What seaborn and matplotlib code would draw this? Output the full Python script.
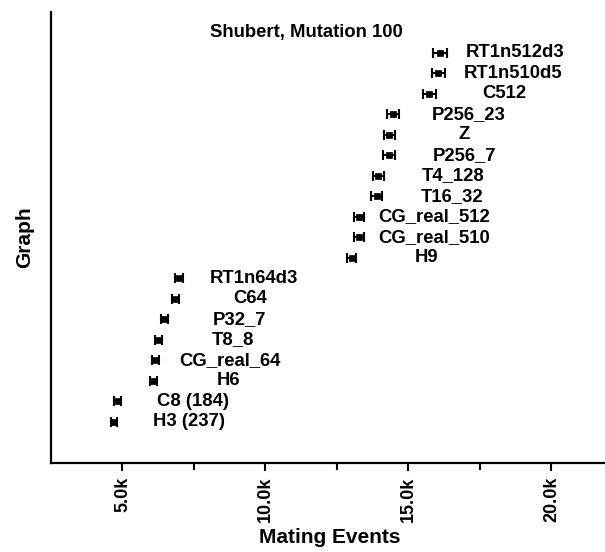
import matplotlib
matplotlib.use("Agg")
import matplotlib.pyplot as plt
import seaborn as sns
import pandas as pd
from matplotlib.ticker import FixedLocator, FuncFormatter

# Data (bottom to top)
graphs = ["H3 (237)", "C8 (184)", "H6", "CG_real_64", "T8_8", "P32_7", "C64",
          "RT1n64d3", "H9", "CG_real_510", "CG_real_512", "T16_32", "T4_128",
          "P256_7", "Z", "P256_23", "C512", "RT1n510d5", "RT1n512d3"]
events = [4700, 4830, 6080, 6140, 6250, 6460, 6850,
          6970, 13010, 13280, 13280, 13890, 13940,
          14320, 14330, 14470, 15730, 16040, 16100]
errors = [110, 110, 120, 120, 120, 120, 130,
          130, 170, 180, 180, 190, 190,
          200, 200, 210, 220, 220, 230]
title_text = "Shubert, Mutation 100"
major_ticks = [5000, 10000, 15000, 20000]
minor_ticks = [7500, 12500, 17500]

df = pd.DataFrame({"graph": graphs, "events": events, "err": errors})
df["pos"] = range(len(df))

sns.set_theme(style="white")
plt.rcParams["font.family"] = ["Liberation Sans", "DejaVu Sans"]
plt.rcParams["font.weight"] = "bold"
for k in ["text.color", "axes.labelcolor", "xtick.color", "ytick.color", "axes.edgecolor"]:
    plt.rcParams[k] = "black"

fig = plt.figure(figsize=(6.05, 5.52), dpi=100)
ax = fig.add_axes([51 / 605, 89.3 / 552, 557.7 / 605, 450.7 / 552])

ax.errorbar(df["events"], df["pos"], xerr=df["err"], fmt="none",
            ecolor="black", elinewidth=1.5, capsize=3.4, capthick=1.5, zorder=2)
sns.scatterplot(data=df, x="events", y="pos", marker="s", s=15, color="black",
                edgecolor="black", linewidth=0.5, ax=ax, zorder=3, legend=False)

for _, r in df.iterrows():
    ax.annotate(r["graph"], xy=(r["events"], r["pos"]), xytext=(75, 0),
                textcoords="offset pixels", ha="center", va="center",
                fontsize=13.3, fontweight="bold", color="black")

ax.text(0.458, len(df), title_text, transform=ax.get_yaxis_transform(),
        ha="center", va="center", fontsize=13.3, fontweight="bold", color="black")

ax.set_xlim(2500, 22000)
ax.set_ylim(-2, 20)
ax.set_yticks([])
ax.xaxis.set_major_locator(FixedLocator(major_ticks))
ax.xaxis.set_minor_locator(FixedLocator(minor_ticks))
ax.xaxis.set_major_formatter(FuncFormatter(lambda v, p: f"{v/1000:.1f}k"))
ax.tick_params(axis="x", which="major", bottom=True, length=6, width=1.5,
               direction="out", labelsize=13, labelrotation=90, pad=4,
               color="black", labelcolor="black")
ax.tick_params(axis="x", which="minor", bottom=True, length=5, width=1.5,
               direction="out", color="black")
for lab in ax.get_xticklabels():
    lab.set_fontweight("bold")

ax.set_xlabel("Mating Events", fontsize=15, fontweight="bold", labelpad=4, color="black")
ax.set_ylabel("Graph", fontsize=15, fontweight="bold", labelpad=12, color="black")

sns.despine(ax=ax)
for side in ["left", "bottom"]:
    ax.spines[side].set_linewidth(1.6)
    ax.spines[side].set_color("black")

fig.savefig("out.png", dpi=100)
